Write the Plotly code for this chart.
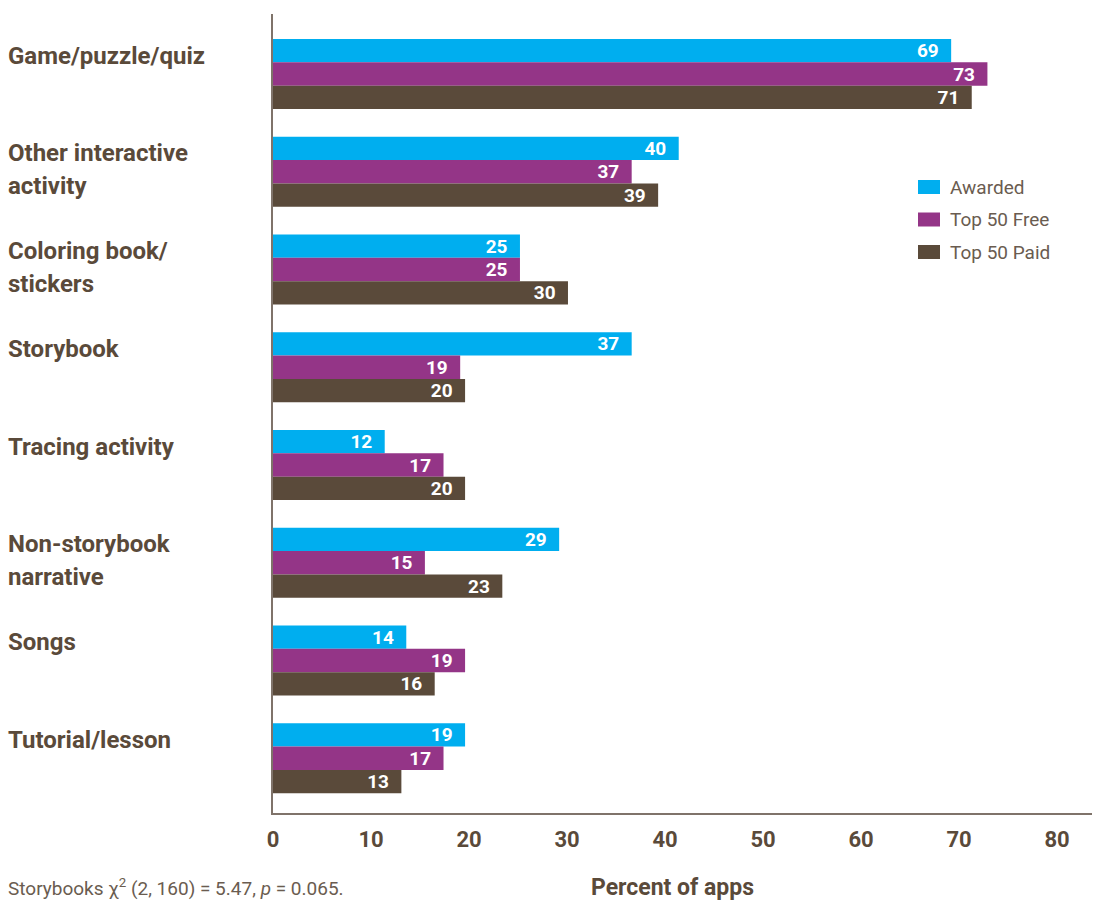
import plotly.graph_objects as go

categories = ["Game/puzzle/quiz", "Other interactive<br>activity", "Coloring book/<br>stickers",
              "Storybook", "Tracing activity", "Non-storybook<br>narrative", "Songs", "Tutorial/lesson"]
series_names = ["Awarded", "Top 50 Free", "Top 50 Paid"]
awarded = [69.2, 41.4, 25.2, 36.6, 11.4, 29.2, 13.6, 19.6]
top_free = [72.9, 36.6, 25.2, 19.1, 17.4, 15.5, 19.6, 17.4]
top_paid = [71.3, 39.3, 30.1, 19.6, 19.6, 23.4, 16.5, 13.1]
awarded_labels = [69, 40, 25, 37, 12, 29, 14, 19]
free_labels = [73, 37, 25, 19, 17, 15, 19, 17]
paid_labels = [71, 39, 30, 20, 20, 23, 16, 13]
x_ticks = [0, 10, 20, 30, 40, 50, 60, 70, 80]
colors = ["#00AEEF", "#943587", "#5A4A3A"]

TXT = "#5A4A3A"
FONT = "Roboto"

W, H = 1094, 901
L, R, T, B = 273, 2, 14, 88
pw, ph = W - L - R, H - T - B

def px_x(px):
    return (px - L) / pw

def px_y(py):
    return (H - B - py) / ph

fig = go.Figure()
for name, vals, labs, col in zip(series_names, [awarded, top_free, top_paid],
                                 [awarded_labels, free_labels, paid_labels], colors):
    fig.add_trace(go.Bar(
        y=categories, x=vals, name=name, orientation="h",
        marker=dict(color=col, line=dict(width=0)),
        text=[f"{v}\u00a0\u00a0" for v in labs],
        textposition="inside", insidetextanchor="end", constraintext="none",
        textfont=dict(family=FONT, size=19, color="white", weight="bold"),
        showlegend=False, hoverinfo="x+name",
    ))

annotations = []
# category labels, one annotation per line
for i, cat in enumerate(categories):
    for j, line in enumerate(cat.split("<br>")):
        annotations.append(dict(
            x=px_x(6), xref="paper", y=i - 0.239, yref="y",
            xanchor="left", yanchor="middle", yshift=-5 - 33 * j,
            text=line, showarrow=False,
            font=dict(family=FONT, size=24, color=TXT, weight="bold"),
        ))

# manual legend
shapes = []
for k, (name, col) in enumerate(zip(series_names, colors)):
    cy = 187 + 32.5 * k
    shapes.append(dict(type="rect", xref="paper", yref="paper",
                       x0=px_x(918), x1=px_x(940), y0=px_y(cy - 7), y1=px_y(cy + 7),
                       fillcolor=col, line=dict(width=0)))
    annotations.append(dict(x=px_x(948), xref="paper", y=px_y(cy), yref="paper",
                            xanchor="left", yanchor="middle", text=name, showarrow=False,
                            font=dict(family=FONT, size=19, color="#6A5C50")))

annotations.append(dict(x=px_x(672), xref="paper", y=px_y(887), yref="paper",
                        xanchor="center", yanchor="middle", text="Percent of apps", showarrow=False,
                        font=dict(family=FONT, size=23, color=TXT, weight="bold")))
annotations.append(dict(x=px_x(6), xref="paper", y=px_y(887), yref="paper",
                        xanchor="left", yanchor="middle",
                        text="Storybooks \u03c7<sup>2</sup> (2, 160) = 5.47, <i>p</i> = 0.065.",
                        showarrow=False, font=dict(family=FONT, size=19, color="#6A5C50")))

fig.update_layout(
    width=W, height=H, margin=dict(l=L, r=R, t=T, b=B),
    paper_bgcolor="white", plot_bgcolor="white",
    barmode="group", bargap=0.284, bargroupgap=0,
    annotations=annotations, shapes=shapes,
    font=dict(family=FONT, color=TXT),
    xaxis=dict(range=[0, pw / 9.8], tickvals=x_ticks, ticktext=[str(t) for t in x_ticks],
               showgrid=False, zeroline=False, showline=True, linecolor="#7F736A", linewidth=1.5,
               ticks="", ticklabelstandoff=6,
               tickfont=dict(family=FONT, size=22, color=TXT, weight="bold")),
    yaxis=dict(range=[7.56, -0.614], showticklabels=False, showgrid=False, zeroline=False,
               showline=True, linecolor="#7F736A", linewidth=1.5, ticks=""),
)

fig.write_html("out.html")
